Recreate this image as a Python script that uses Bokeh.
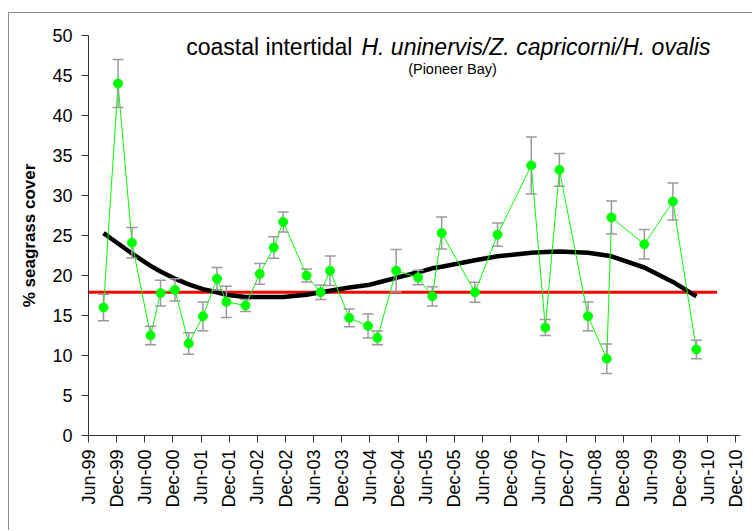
import math
from bokeh.plotting import figure
from bokeh.models import Range1d, FixedTicker, ColumnDataSource, Label
from bokeh.embed import file_html
from bokeh.resources import INLINE

# ---------------- data ----------------
sample_dates = [
    "1999-09-07", "1999-12-10", "2000-03-09", "2000-07-08", "2000-09-12",
    "2000-12-14", "2001-03-12", "2001-06-13", "2001-09-13", "2001-11-13",
    "2002-03-15", "2002-06-16", "2002-09-16", "2002-11-16", "2003-04-16",
    "2003-07-16", "2003-09-16", "2004-01-19", "2004-05-19", "2004-07-19",
    "2004-11-19", "2005-04-09", "2005-07-10", "2005-09-10", "2006-04-13",
    "2006-09-07", "2007-04-13", "2007-07-13", "2007-10-13", "2008-04-16",
    "2008-08-16", "2008-09-16", "2009-04-16", "2009-10-19", "2010-03-19",
]
cover_mean = [
    16.0, 44.0, 24.1, 12.5, 17.8,
    18.2, 11.5, 14.9, 19.6, 16.7,
    16.25, 20.2, 23.5, 26.7, 20.0,
    17.9, 20.6, 14.7, 13.7, 12.2,
    20.6, 19.75, 17.4, 25.3, 17.9,
    25.1, 33.75, 13.5, 33.2, 14.9,
    9.6, 27.25, 23.9, 29.25, 10.75,
]
cover_se = [
    1.65, 3.0, 1.9, 1.15, 1.6,
    1.4, 1.35, 1.8, 1.4, 1.95,
    0.75, 1.3, 1.35, 1.25, 0.8,
    0.9, 1.85, 1.1, 1.5, 0.85,
    2.65, 0.9, 1.2, 2.0, 1.25,
    1.45, 3.55, 1.0, 2.05, 1.8,
    1.85, 2.05, 1.85, 2.3, 1.15,
]
trend_cover = [
    25.3, 24.0, 22.75, 21.2, 20.5,
    19.6, 18.9, 18.3, 17.9, 17.6,
    17.3, 17.3, 17.3, 17.3, 17.6,
    17.9, 18.1, 18.5, 18.8, 19.1,
    19.7, 20.4, 20.9, 21.1, 21.9,
    22.4, 22.85, 22.95, 23.0, 22.85,
    22.5, 22.4, 21.0, 19.2, 17.4,
]
guideline_dates = ["1999-06-01", "2010-08-01"]
guideline_cover = 17.9
tick_labels = [
    "Jun-99", "Dec-99", "Jun-00", "Dec-00", "Jun-01", "Dec-01",
    "Jun-02", "Dec-02", "Jun-03", "Dec-03", "Jun-04", "Dec-04",
    "Jun-05", "Dec-05", "Jun-06", "Dec-06", "Jun-07", "Dec-07",
    "Jun-08", "Dec-08", "Jun-09", "Dec-09", "Jun-10", "Dec-10",
]


def months(s):
    """Months elapsed since 1 June 1999."""
    y, m, d = map(int, s.split("-"))
    return (y - 1999) * 12 + (m - 6) + (d - 1) / 30.44


xs = [months(s) for s in sample_dates]
src = ColumnDataSource(dict(
    x=xs,
    y=cover_mean,
    upper=[m + e for m, e in zip(cover_mean, cover_se)],
    lower=[m - e for m, e in zip(cover_mean, cover_se)],
    trend=trend_cover,
))

FONT = "Liberation Sans"
OX, OY = 9, 13  # element offset inside the page (chart border drawn just outside)

p = figure(
    width=753 - OX, height=531 - OY, output_backend="svg", toolbar_location=None,
    x_range=Range1d(0, 139), y_range=Range1d(0, 50),
    min_border_left=88 - OX, min_border_right=13, min_border_top=35 - OY,
    min_border_bottom=96,
    margin=(OY, 0, 0, OX),
    styles={"box-shadow": "-1px -1px 0 0 #8C8C8C"},
)
p.grid.visible = False
p.outline_line_color = None
p.background_fill_color = "white"
p.border_fill_color = "white"

# guideline (red) and trend (black)
gx = [months(s) for s in guideline_dates]
p.line(gx, [guideline_cover, guideline_cover], line_color="#FF0000", line_width=3)
p.line("x", "trend", source=src, line_color="#000000", line_width=4.5)

# data series
p.line("x", "y", source=src, line_color="#00FF00", line_width=1)
p.segment(x0="x", y0="lower", x1="x", y1="upper", source=src, line_color="#9A9A9A", line_width=1.5)
p.scatter("x", "upper", source=src, marker="dash", size=11, line_color="#9A9A9A", line_width=1.5)
p.scatter("x", "lower", source=src, marker="dash", size=11, line_color="#9A9A9A", line_width=1.5)
p.scatter("x", "y", source=src, marker="circle", size=9, fill_color="#00FF00", line_color="#00FF00")

# axes
for ax in (p.xaxis, p.yaxis):
    ax.axis_line_color = "#333333"
    ax.major_tick_line_color = "#333333"
    ax.minor_tick_line_color = None
    ax.major_tick_in = 0
    ax.major_tick_out = 7
    ax.major_label_text_font = FONT
    ax.major_label_text_font_size = "18px"
    ax.major_label_text_color = "#000000"

p.yaxis.ticker = FixedTicker(ticks=list(range(0, 51, 5)))
p.yaxis.major_label_standoff = 9
p.yaxis.axis_label = "% seagrass cover"
p.yaxis.axis_label_text_font = FONT
p.yaxis.axis_label_text_font_size = "17px"
p.yaxis.axis_label_text_font_style = "bold"
p.yaxis.axis_label_text_color = "#000000"
p.yaxis.axis_label_standoff = 10

tick_pos = [6 * i for i in range(len(tick_labels))]
p.xaxis.ticker = FixedTicker(ticks=tick_pos)
p.xaxis.major_label_overrides = {t: lab for t, lab in zip(tick_pos, tick_labels)}
p.xaxis.major_label_orientation = math.pi / 2
p.xaxis.major_label_standoff = 7

# titles
p.add_layout(Label(x=(352 - 88) / 4.691, y=48.54, text="coastal intertidal", text_align="right",
                   text_baseline="alphabetic", text_font=FONT, text_font_size="23px",
                   text_color="#000000"))
p.add_layout(Label(x=(361 - 88) / 4.691, y=48.54, text="H. uninervis/Z. capricorni/H. ovalis",
                   text_align="left", text_baseline="alphabetic", text_font=FONT,
                   text_font_size="23px", text_font_style="italic", text_color="#000000"))
p.add_layout(Label(x=(452 - 88) / 4.691, y=45.875, text="(Pioneer Bay)", text_align="center",
                   text_baseline="alphabetic", text_font=FONT, text_font_size="14.5px",
                   text_color="#000000"))

open("out.html", "w").write(file_html(p, INLINE))
